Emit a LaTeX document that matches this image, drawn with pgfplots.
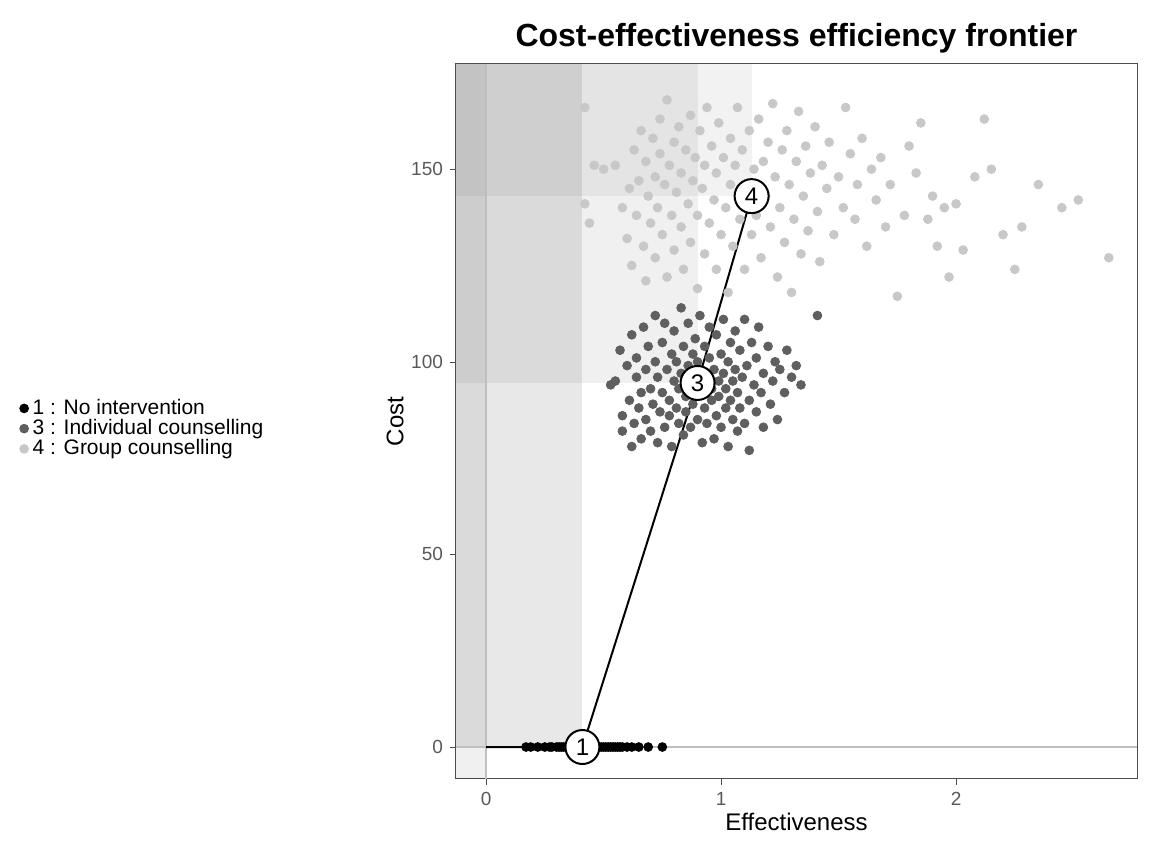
\documentclass[border=0pt]{standalone}
\usepackage{pgfplots}
\pgfplotsset{compat=1.18}
\usepackage{fontspec}
\setmainfont{Liberation Sans}
\begin{document}
\begin{tikzpicture}
\useasboundingbox (0,0) rectangle (576pt,432.5pt);
\begin{axis}[at={(228pt,43pt)},anchor=south west,scale only axis,
 width=340.5pt,height=357.5pt,
 xmin=-0.128,xmax=2.77,ymin=-8.3,ymax=177.3,
 xtick={0,1,2},ytick={0,50,100,150},
 tick label style={font=\fontsize{9.5}{11}\selectfont,text=black!65},
 /pgf/number format/assume math mode=true,
 tick style={black!70},tick align=outside,major tick length=3pt,
 xtick pos=bottom,ytick pos=left,
 axis line style={black!70,line width=0.5pt},
 xlabel={Effectiveness},ylabel={Cost},
 label style={font=\fontsize{12}{14}\selectfont},
 xlabel style={yshift=3pt},ylabel style={yshift=-3pt},
 title={\bfseries Cost-effectiveness efficiency frontier},
 title style={font=\fontsize{16}{18}\selectfont,yshift=-4pt},
 legend style={at={(-0.65,0.49)},anchor=west,draw=none,fill=none,
   font=\fontsize{10.5}{12}\selectfont,row sep=-3pt},
 legend cell align=left, clip=true]
\fill[black,opacity=0.06] (axis cs:-0.128,-8.3) rectangle (axis cs:0,177.3);
\fill[black,opacity=0.09] (axis cs:-0.128,0) rectangle (axis cs:0.41,177.3);
\fill[black,opacity=0.06] (axis cs:-0.128,94.5) rectangle (axis cs:0.9,177.3);
\fill[black,opacity=0.05] (axis cs:-0.128,143) rectangle (axis cs:1.13,177.3);
\draw[black!25,line width=0.8pt] (axis cs:0,-8.3) -- (axis cs:0,177.3);
\draw[black!25,line width=0.8pt] (axis cs:-0.128,0) -- (axis cs:2.77,0);
\addplot[only marks,mark=*,mark size=2.2pt,black] table {
x y
0.17 0
0.19 0
0.22 0
0.25 0
0.27 0
0.28 0
0.30 0
0.31 0
0.32 0
0.33 0
0.34 0
0.35 0
0.36 0
0.37 0
0.38 0
0.39 0
0.40 0
0.42 0
0.44 0
0.45 0
0.46 0
0.47 0
0.48 0
0.49 0
0.50 0
0.51 0
0.52 0
0.53 0
0.54 0
0.55 0
0.56 0
0.57 0
0.58 0
0.60 0
0.62 0
0.65 0
0.69 0
0.75 0
};
\addlegendentry{1 : No intervention}
\addplot[only marks,mark=*,mark size=2.2pt,color={rgb,255:red,95;green,95;blue,95}] table {
x y
0.53 94
0.55 95
0.57 103
0.58 86
0.58 82
0.60 99
0.61 90
0.62 78
0.62 107
0.63 84
0.64 96
0.64 101
0.65 88
0.66 80
0.66 92
0.67 109
0.68 98
0.68 85
0.69 104
0.70 93
0.70 82
0.71 89
0.72 112
0.72 100
0.73 79
0.73 96
0.74 87
0.75 105
0.75 92
0.76 83
0.76 110
0.77 98
0.78 90
0.78 86
0.79 102
0.79 78
0.80 95
0.80 108
0.81 88
0.81 100
0.82 84
0.82 93
0.83 114
0.83 97
0.84 81
0.84 104
0.85 91
0.85 87
0.86 99
0.86 110
0.87 94
0.87 83
0.88 102
0.88 89
0.89 96
0.89 106
0.90 85
0.90 100
0.91 92
0.91 112
0.92 79
0.92 97
0.93 88
0.93 104
0.94 95
0.94 84
0.95 101
0.95 109
0.96 90
0.96 93
0.97 80
0.97 98
0.98 86
0.98 107
0.99 95
0.99 91
1.00 102
1.00 83
1.01 97
1.01 111
1.02 88
1.02 93
1.03 78
1.03 100
1.04 105
1.04 90
1.05 95
1.05 85
1.06 108
1.06 98
1.07 82
1.07 92
1.08 103
1.08 88
1.09 96
1.10 111
1.10 84
1.11 99
1.12 90
1.12 77
1.13 105
1.14 94
1.15 87
1.15 101
1.16 109
1.17 92
1.18 83
1.18 97
1.20 104
1.21 89
1.22 95
1.23 100
1.24 85
1.25 98
1.27 92
1.28 103
1.30 96
1.32 99
1.34 94
1.41 112
};
\addlegendentry{3 : Individual counselling}
\addplot[only marks,mark=*,mark size=2.2pt,color={rgb,255:red,200;green,200;blue,200}] table {
x y
0.42 166
0.42 141
0.44 136
0.46 151
0.50 150
0.55 151
0.58 140
0.60 132
0.61 145
0.62 125
0.63 155
0.64 138
0.65 147
0.66 160
0.67 130
0.68 152
0.68 121
0.69 143
0.70 136
0.71 158
0.72 148
0.72 127
0.73 140
0.74 163
0.74 154
0.75 133
0.76 146
0.77 168
0.77 122
0.78 151
0.79 138
0.80 157
0.80 129
0.81 144
0.82 161
0.83 135
0.83 149
0.84 124
0.85 155
0.86 141
0.87 164
0.87 131
0.88 147
0.89 153
0.90 119
0.90 138
0.91 160
0.92 145
0.93 128
0.93 151
0.94 166
0.95 136
0.96 156
0.97 142
0.98 124
0.98 149
0.99 162
1.00 133
1.01 153
1.02 140
1.03 118
1.04 158
1.04 146
1.05 130
1.06 151
1.07 166
1.08 137
1.09 155
1.10 124
1.10 145
1.12 160
1.13 133
1.14 150
1.15 138
1.16 163
1.17 127
1.18 152
1.19 143
1.20 157
1.21 135
1.22 167
1.23 148
1.24 122
1.25 140
1.26 155
1.27 131
1.28 160
1.29 146
1.30 118
1.31 137
1.32 152
1.33 165
1.34 128
1.35 143
1.36 156
1.37 134
1.38 149
1.40 161
1.41 139
1.42 126
1.43 151
1.45 145
1.46 157
1.48 133
1.50 148
1.52 140
1.53 166
1.55 154
1.57 137
1.58 146
1.60 158
1.62 130
1.64 150
1.66 142
1.68 153
1.70 135
1.72 146
1.75 117
1.78 138
1.80 156
1.83 149
1.85 162
1.88 137
1.90 143
1.92 130
1.95 140
1.97 122
2.00 141
2.03 129
2.08 148
2.12 163
2.15 150
2.20 133
2.25 124
2.28 135
2.35 146
2.45 140
2.52 142
2.65 127
};
\addlegendentry{4 : Group counselling}
\addplot[black,line width=1pt,forget plot] coordinates {(0,0) (0.41,0) (0.9,94.5) (1.13,143)};
\addplot[only marks,mark=*,mark size=8.5pt,mark options={fill=white,draw=black,line width=1pt},forget plot,
 nodes near coords,point meta=explicit symbolic,
 every node near coord/.style={anchor=center,font=\fontsize{12}{13}\selectfont}] table[meta=l] {
x y l
0.41 0 1
0.9 94.5 3
1.13 143 4
};
\end{axis}
\end{tikzpicture}
\end{document}
